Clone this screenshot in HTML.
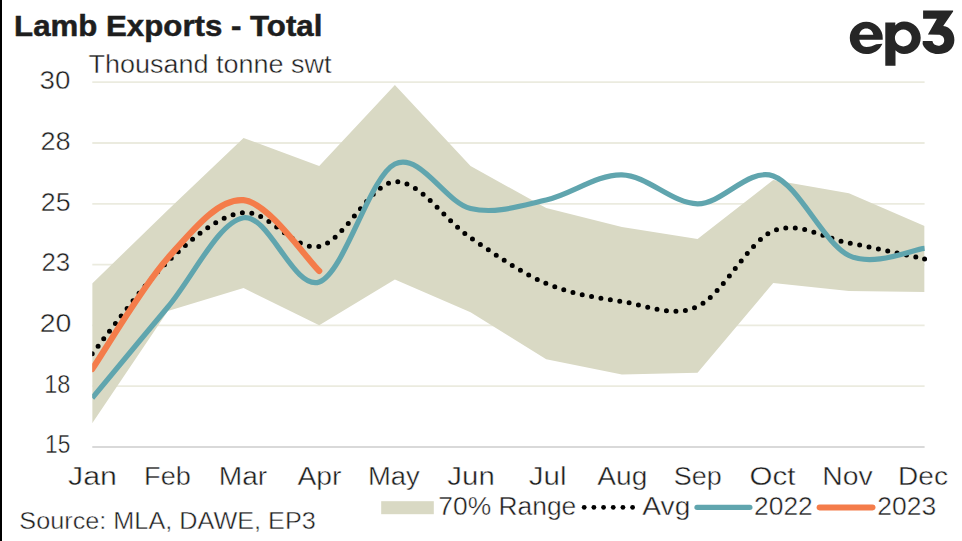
<!DOCTYPE html>
<html><head><meta charset="utf-8"><style>
html,body{margin:0;padding:0;background:#fff;}
body{width:962px;height:541px;overflow:hidden;position:relative;}
svg{position:absolute;left:0;top:0;font-family:"Liberation Sans",sans-serif;}
</style></head><body>
<svg width="962" height="541" viewBox="0 0 962 541">
<rect x="0" y="0" width="962" height="541" fill="#fff"/>
<rect x="0" y="0" width="2" height="541" fill="#000"/>
<defs><clipPath id="pc"><rect x="92.2" y="0" width="832.4" height="541"/></clipPath><clipPath id="pc2"><rect x="92.2" y="0" width="850" height="541"/></clipPath><clipPath id="pc3"><rect x="92.2" y="0" width="833.6" height="541"/></clipPath></defs>
<g>
<line x1="92.3" y1="82.20" x2="924.6" y2="82.20" stroke="#ebebdf" stroke-width="1.8"/>
<line x1="92.3" y1="143.00" x2="924.6" y2="143.00" stroke="#ebebdf" stroke-width="1.8"/>
<line x1="92.3" y1="203.80" x2="924.6" y2="203.80" stroke="#ebebdf" stroke-width="1.8"/>
<line x1="92.3" y1="264.60" x2="924.6" y2="264.60" stroke="#ebebdf" stroke-width="1.8"/>
<line x1="92.3" y1="325.40" x2="924.6" y2="325.40" stroke="#ebebdf" stroke-width="1.8"/>
<line x1="92.3" y1="386.20" x2="924.6" y2="386.20" stroke="#ebebdf" stroke-width="1.8"/>
<polygon clip-path="url(#pc)" points="92.20,283.50 167.87,210.00 243.54,138.00 319.21,166.00 394.88,85.00 470.55,166.00 546.22,208.00 621.89,227.00 697.56,239.00 773.23,180.00 848.90,193.30 924.57,226.00 924.57,292.00 848.90,291.10 773.23,283.00 697.56,372.80 621.89,374.40 546.22,359.30 470.55,312.30 394.88,279.50 319.21,325.30 243.54,288.00 167.87,311.00 92.20,423.30" fill="#d9d9c4"/>
<line x1="92.3" y1="447" x2="924.6" y2="447" stroke="#d9d9d9" stroke-width="2"/>
<path clip-path="url(#pc2)" d="M92.20 353.70 C104.81 338.33 142.65 285.02 167.87 261.50 C193.09 237.98 218.32 215.10 243.54 212.60 C268.76 210.10 293.99 251.63 319.21 246.50 C344.43 241.37 369.66 183.25 394.88 181.80 C420.10 180.35 445.33 220.85 470.55 237.80 C495.77 254.75 521.00 272.88 546.22 283.50 C571.44 294.12 596.67 297.67 621.89 301.50 C647.11 305.33 672.34 318.25 697.56 306.50 C722.78 294.75 748.01 241.58 773.23 231.00 C798.45 220.42 823.68 238.33 848.90 243.00 C874.12 247.67 911.96 256.33 924.57 259.00" fill="none" stroke="#000" stroke-width="5" stroke-linecap="round" stroke-dasharray="0 9.533"/>
<circle cx="924.57" cy="259.00" r="2.5" fill="#000"/>
<path d="M92.20 398.00 C104.81 382.83 142.65 337.05 167.87 307.00 C193.09 276.95 218.32 221.87 243.54 217.70 C268.76 213.53 293.99 290.95 319.21 282.00 C344.43 273.05 369.66 176.25 394.88 164.00 C420.10 151.75 445.33 202.50 470.55 208.50 C495.77 214.50 521.00 205.62 546.22 200.00 C571.44 194.38 596.67 174.17 621.89 174.80 C647.11 175.43 672.34 203.60 697.56 203.80 C722.78 204.00 748.01 167.38 773.23 176.00 C798.45 184.62 823.68 243.43 848.90 255.50 C874.12 267.57 911.96 249.58 924.57 248.40" fill="none" clip-path="url(#pc3)" stroke="#60a5ae" stroke-width="5.2" stroke-linecap="butt"/>
<path d="M92.20 369.00 C104.81 350.50 142.65 286.13 167.87 258.00 C193.09 229.87 218.32 198.03 243.54 200.20 C268.76 202.37 306.60 259.20 319.21 271.00" fill="none" clip-path="url(#pc)" stroke="#f47c4a" stroke-width="6.2" stroke-linecap="round"/>
</g>
<text x="14.09" y="36" font-size="30" text-anchor="start" font-weight="bold" fill="#1e1e1e" stroke="#1e1e1e" stroke-width="0.5" textLength="308.25" lengthAdjust="spacingAndGlyphs">Lamb Exports - Total</text>
<text x="88.41" y="72.9" font-size="25" text-anchor="start" font-weight="normal" fill="#1e1e1e" stroke="#fff" stroke-width="0.4" textLength="243.14" lengthAdjust="spacingAndGlyphs">Thousand tonne swt</text>
<text x="39.5" y="88.7" font-size="25" text-anchor="start" font-weight="normal" fill="#1e1e1e" stroke="#fff" stroke-width="0.4" textLength="30.85" lengthAdjust="spacingAndGlyphs">30</text>
<text x="40.4" y="150.29999999999998" font-size="25" text-anchor="start" font-weight="normal" fill="#1e1e1e" stroke="#fff" stroke-width="0.4" textLength="30.24" lengthAdjust="spacingAndGlyphs">28</text>
<text x="40.87" y="211.0" font-size="25" text-anchor="start" font-weight="normal" fill="#1e1e1e" stroke="#fff" stroke-width="0.4" textLength="29.82" lengthAdjust="spacingAndGlyphs">25</text>
<text x="41.4" y="271.2" font-size="25" text-anchor="start" font-weight="normal" fill="#1e1e1e" stroke="#fff" stroke-width="0.4" textLength="28.74" lengthAdjust="spacingAndGlyphs">23</text>
<text x="39.65" y="331.9" font-size="25" text-anchor="start" font-weight="normal" fill="#1e1e1e" stroke="#fff" stroke-width="0.4" textLength="31.73" lengthAdjust="spacingAndGlyphs">20</text>
<text x="44.19" y="392.9" font-size="25" text-anchor="start" font-weight="normal" fill="#1e1e1e" stroke="#fff" stroke-width="0.4" textLength="26.12" lengthAdjust="spacingAndGlyphs">18</text>
<text x="45.04" y="453.3" font-size="25" text-anchor="start" font-weight="normal" fill="#1e1e1e" stroke="#fff" stroke-width="0.4" textLength="25.24" lengthAdjust="spacingAndGlyphs">15</text>
<text x="67.99" y="485.2" font-size="25" text-anchor="start" font-weight="normal" fill="#1e1e1e" stroke="#fff" stroke-width="0.4" textLength="48.98" lengthAdjust="spacingAndGlyphs">Jan</text>
<text x="144.11" y="485.2" font-size="25" text-anchor="start" font-weight="normal" fill="#1e1e1e" stroke="#fff" stroke-width="0.4" textLength="46.72" lengthAdjust="spacingAndGlyphs">Feb</text>
<text x="218.77" y="485.2" font-size="25" text-anchor="start" font-weight="normal" fill="#1e1e1e" stroke="#fff" stroke-width="0.4" textLength="48.39" lengthAdjust="spacingAndGlyphs">Mar</text>
<text x="297.45" y="485.2" font-size="25" text-anchor="start" font-weight="normal" fill="#1e1e1e" stroke="#fff" stroke-width="0.4" textLength="44.05" lengthAdjust="spacingAndGlyphs">Apr</text>
<text x="367.95" y="485.2" font-size="25" text-anchor="start" font-weight="normal" fill="#1e1e1e" stroke="#fff" stroke-width="0.4" textLength="51.81" lengthAdjust="spacingAndGlyphs">May</text>
<text x="447.36" y="485.2" font-size="25" text-anchor="start" font-weight="normal" fill="#1e1e1e" stroke="#fff" stroke-width="0.4" textLength="47.38" lengthAdjust="spacingAndGlyphs">Jun</text>
<text x="528.69" y="485.2" font-size="25" text-anchor="start" font-weight="normal" fill="#1e1e1e" stroke="#fff" stroke-width="0.4" textLength="37.82" lengthAdjust="spacingAndGlyphs">Jul</text>
<text x="597.39" y="485.2" font-size="25" text-anchor="start" font-weight="normal" fill="#1e1e1e" stroke="#fff" stroke-width="0.4" textLength="50.0" lengthAdjust="spacingAndGlyphs">Aug</text>
<text x="673.73" y="485.2" font-size="25" text-anchor="start" font-weight="normal" fill="#1e1e1e" stroke="#fff" stroke-width="0.4" textLength="47.92" lengthAdjust="spacingAndGlyphs">Sep</text>
<text x="749.44" y="485.2" font-size="25" text-anchor="start" font-weight="normal" fill="#1e1e1e" stroke="#fff" stroke-width="0.4" textLength="45.92" lengthAdjust="spacingAndGlyphs">Oct</text>
<text x="822.37" y="485.2" font-size="25" text-anchor="start" font-weight="normal" fill="#1e1e1e" stroke="#fff" stroke-width="0.4" textLength="50.46" lengthAdjust="spacingAndGlyphs">Nov</text>
<text x="898.06" y="485.2" font-size="25" text-anchor="start" font-weight="normal" fill="#1e1e1e" stroke="#fff" stroke-width="0.4" textLength="49.86" lengthAdjust="spacingAndGlyphs">Dec</text>
<text x="19.3" y="529.4" font-size="23" text-anchor="start" font-weight="normal" fill="#1e1e1e" stroke="#fff" stroke-width="0.4" textLength="296.57" lengthAdjust="spacingAndGlyphs">Source: MLA, DAWE, EP3</text>
<text x="438.39" y="514.9" font-size="25" text-anchor="start" font-weight="normal" fill="#1e1e1e" stroke="#fff" stroke-width="0.4" textLength="137.87" lengthAdjust="spacingAndGlyphs">70% Range</text>
<text x="642.38" y="514.5" font-size="25" text-anchor="start" font-weight="normal" fill="#1e1e1e" stroke="#fff" stroke-width="0.4" textLength="47.95" lengthAdjust="spacingAndGlyphs">Avg</text>
<text x="754.09" y="514.7" font-size="25" text-anchor="start" font-weight="normal" fill="#1e1e1e" stroke="#fff" stroke-width="0.4" textLength="58.64" lengthAdjust="spacingAndGlyphs">2022</text>
<text x="877.25" y="514.7" font-size="25" text-anchor="start" font-weight="normal" fill="#1e1e1e" stroke="#fff" stroke-width="0.4" textLength="58.86" lengthAdjust="spacingAndGlyphs">2023</text>
<rect x="381.2" y="501.2" width="52.6" height="13" fill="#d9d9c4"/>
<circle cx="584.20" cy="507.3" r="2.4" fill="#000"/>
<circle cx="593.88" cy="507.3" r="2.4" fill="#000"/>
<circle cx="603.56" cy="507.3" r="2.4" fill="#000"/>
<circle cx="613.24" cy="507.3" r="2.4" fill="#000"/>
<circle cx="622.92" cy="507.3" r="2.4" fill="#000"/>
<circle cx="632.60" cy="507.3" r="2.4" fill="#000"/>
<line x1="697" y1="507.4" x2="749.9" y2="507.4" stroke="#60a5ae" stroke-width="5.2" stroke-linecap="round"/>
<line x1="819.6" y1="507.4" x2="872.5" y2="507.4" stroke="#f47c4a" stroke-width="6" stroke-linecap="round"/>
<path d="M849.8 37.9 A16.45 16.2 0 1 1 882.7 37.9 L882.7 39.7 L859.4 39.7 C860 43.8 862.6 46.9 866.4 46.9 C870.2 46.9 873.2 45.8 876.3 44.2 L882.4 43.8 C879.6 50.5 873.4 54.1 866.3 54.1 A16.45 16.2 0 0 1 849.8 37.9 Z M859.3 34.8 C859.8 31 862.6 28.4 866.3 28.4 C870 28.4 872.8 31 873.3 34.8 Z" fill="#262626" fill-rule="evenodd"/>
<path d="M885.3 22.4 L895.3 22.4 L895.3 25.5 C897.5 22.8 900.5 21.4 904 21.4 C913.5 21.4 920.7 28.6 920.7 37.7 C920.7 46.8 913.5 54.1 904 54.1 C900.5 54.1 897.5 52.7 895.5 50.3 L895.5 65.7 L885.3 65.7 Z M903.3 29.6 A8.4 8.45 0 1 0 903.31 29.6 Z" fill="#262626" fill-rule="evenodd"/>
<path d="M923.1 10.6 L953.1 10.6 L953.1 11.5 L943.2 26 C950.5 27 954.4 32.8 954.4 40 C954.4 48.5 947.5 54.1 938.5 54.1 C930.8 54.1 924.8 50 922.6 44 L922.8 41.1 L932.4 41.1 C932.9 44 935.3 45.8 938.3 45.8 C941.6 45.8 944.2 43.5 944.2 40.3 C944.2 37.1 941.6 34.8 938.3 34.8 L927.9 34.4 L936.9 18.8 L923.1 18.8 Z" fill="#262626"/>
</svg>
</body></html>
